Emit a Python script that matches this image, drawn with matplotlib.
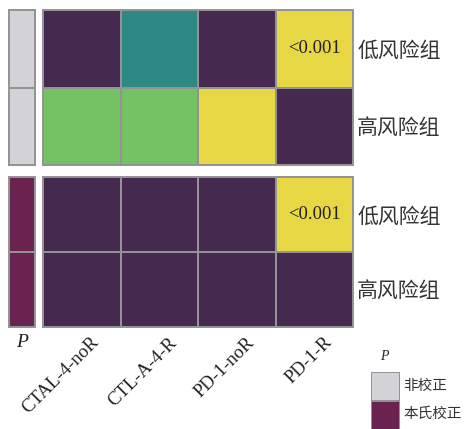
import matplotlib
matplotlib.use("Agg")
import matplotlib.pyplot as plt
from matplotlib.colors import ListedColormap, BoundaryNorm
from matplotlib.patches import Rectangle
from matplotlib.transforms import ScaledTranslation
import numpy as np

# Data
columns = ["CTAL-4-noR", "CTL-A-4-R", "PD-1-noR", "PD-1-R"]
rows = ["低风险组", "高风险组"]
# significance level per cell: 0 = not significant ... 3 = most significant
uncorrected = [[0, 1, 0, 3],
               [2, 2, 3, 0]]
bonferroni = [[0, 0, 0, 3],
              [0, 0, 0, 0]]
annot_uncorrected = [["", "", "", "<0.001"], ["", "", "", ""]]
annot_bonferroni = [["", "", "", "<0.001"], ["", "", "", ""]]
methods = ["非校正", "本氏校正"]

level_colors = ["#45294F", "#2E8985", "#74C263", "#E8D744"]
method_colors = ["#D3D3D7", "#6A2350"]
edge = "#939393"
lw = 1.4

W, H = 468, 429
fig = plt.figure(figsize=(W / 100, H / 100), dpi=100)

serif = ["Liberation Serif", "DejaVu Serif"]
cjk = ["Noto Sans CJK SC", "DejaVu Sans"]


def px_axes(x0, y0, x1, y1):
    return fig.add_axes([x0 / W, 1 - y1 / H, (x1 - x0) / W, (y1 - y0) / H])


cmap = ListedColormap(level_colors)
norm = BoundaryNorm(np.arange(-0.5, len(level_colors) + 0.5), cmap.N)
mcmap = ListedColormap(method_colors)
mnorm = BoundaryNorm(np.arange(-0.5, len(method_colors) + 0.5), mcmap.N)

blocks = [(uncorrected, annot_uncorrected, 0, 10, 165),
          (bonferroni, annot_bonferroni, 1, 177, 327)]

for vals, ann, midx, y0, y1 in blocks:
    ax = px_axes(43, y0, 353, y1)
    arr = np.array(vals)
    ax.pcolormesh(arr, cmap=cmap, norm=norm, edgecolors=edge, linewidth=lw)
    ax.set_xlim(0, arr.shape[1])
    ax.set_ylim(arr.shape[0], 0)
    for i in range(arr.shape[0]):
        for j in range(arr.shape[1]):
            if ann[i][j]:
                ax.text(j + 0.5, i + 0.5, ann[i][j], ha="center", va="center",
                        fontsize=13.5, family=serif, color="#222222")
    ax.set_xticks([])
    ax.set_yticks(np.arange(arr.shape[0]) + 0.5)
    ax.set_yticklabels(rows, family=cjk, fontsize=15, color="#333333")
    ax.yaxis.tick_right()
    ax.tick_params(axis="y", length=0, pad=3)
    for s in ax.spines.values():
        s.set_edgecolor(edge)
        s.set_linewidth(lw)

    sax = px_axes(9, y0, 35, y1)
    sarr = np.full((arr.shape[0], 1), midx)
    sax.pcolormesh(sarr, cmap=mcmap, norm=mnorm, edgecolors=edge, linewidth=lw)
    sax.set_xlim(0, 1)
    sax.set_ylim(arr.shape[0], 0)
    sax.set_xticks([])
    sax.set_yticks([])
    for s in sax.spines.values():
        s.set_edgecolor(edge)
        s.set_linewidth(lw)

    if midx == 1:
        sax.set_xlabel("P", fontsize=14, family=serif, style="italic",
                       color="#222222", labelpad=5)
        ax.set_xticks(np.arange(len(columns)) + 0.5)
        ax.set_xticklabels(columns, rotation=45, ha="right",
                           rotation_mode="anchor", family=serif, fontsize=13.5,
                           color="#222222")
        ax.tick_params(axis="x", length=0, pad=5)
        shift = ScaledTranslation(9 / 100, 0, fig.dpi_scale_trans)
        for lab in ax.get_xticklabels():
            lab.set_transform(lab.get_transform() + shift)

# Legend for the correction method
fig.text(384 / W, 1 - 357 / H, "P", fontsize=10, family=serif, style="italic",
         ha="center", va="center", color="#222222")
lax = px_axes(371, 372, 400, 430)
for k, c in enumerate(method_colors):
    lax.add_patch(Rectangle((0, k), 1, 1, facecolor=c, edgecolor=edge,
                            linewidth=lw))
lax.set_xlim(0, 1)
lax.set_ylim(2, 0)
lax.axis("off")
for k, m in enumerate(methods):
    fig.text(403 / W, 1 - (386 + 28 * k) / H, m, fontsize=10.5, family=cjk,
             ha="left", va="center", color="#333333")

fig.savefig("out.png", dpi=100)
